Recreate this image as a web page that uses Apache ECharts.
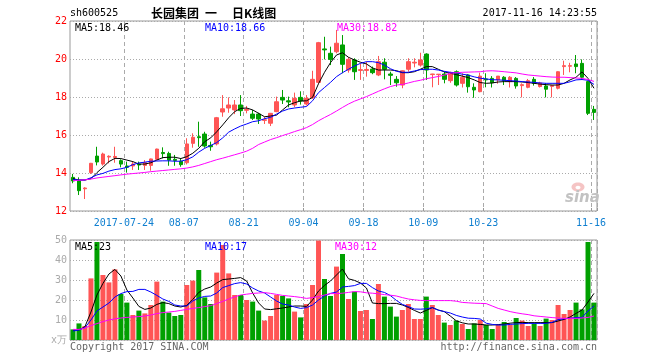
<!DOCTYPE html>
<html><head><meta charset="utf-8">
<script src="https://cdn.jsdelivr.net/npm/echarts@6/dist/echarts.min.js"></script>
<style>html,body{margin:0;padding:0;background:#fff}#c{width:660px;height:360px}</style>
</head><body><div id="c"></div>
<script>
const dates = [
"2017-07-11","2017-07-12","2017-07-13","2017-07-14","2017-07-17","2017-07-18","2017-07-19","2017-07-20","2017-07-21",
"2017-07-24","2017-07-25","2017-07-26","2017-07-27","2017-07-28",
"2017-07-31","2017-08-01","2017-08-02","2017-08-03","2017-08-04",
"2017-08-07","2017-08-08","2017-08-09","2017-08-10","2017-08-11",
"2017-08-14","2017-08-15","2017-08-16","2017-08-17","2017-08-18",
"2017-08-21","2017-08-22","2017-08-23","2017-08-24","2017-08-25",
"2017-08-28","2017-08-29","2017-08-30","2017-08-31","2017-09-01",
"2017-09-04","2017-09-05","2017-09-06","2017-09-07","2017-09-08",
"2017-09-11","2017-09-12","2017-09-13","2017-09-14","2017-09-15",
"2017-09-18","2017-09-19","2017-09-20","2017-09-21","2017-09-22",
"2017-09-25","2017-09-26","2017-09-27","2017-09-28","2017-09-29",
"2017-10-09","2017-10-10","2017-10-11","2017-10-12","2017-10-13",
"2017-10-16","2017-10-17","2017-10-18","2017-10-19","2017-10-20",
"2017-10-23","2017-10-24","2017-10-25","2017-10-26","2017-10-27",
"2017-10-30","2017-10-31","2017-11-01","2017-11-02","2017-11-03",
"2017-11-06","2017-11-07","2017-11-08","2017-11-09","2017-11-10",
"2017-11-13","2017-11-14","2017-11-15","2017-11-16"];

const tickDates = ["2017-07-24","2017-08-07","2017-08-21","2017-09-04","2017-09-18","2017-10-09","2017-10-23","2017-11-16"];
const tickLabels = ["2017-07-24","08-07","08-21","09-04","09-18","10-09","10-23","11-16"];

const openP = [
13.77,13.58,13.17,14.02,14.89,14.47,14.84,14.82,14.65,14.37,
14.37,14.47,14.40,14.40,14.72,15.08,15.03,14.72,14.62,14.54,
15.56,15.91,16.05,15.45,15.53,17.21,17.42,17.32,17.58,17.30,
17.10,17.10,16.77,16.62,17.23,17.98,17.80,17.58,17.98,17.63,
17.96,18.77,20.53,20.30,20.38,20.74,19.42,19.95,19.40,19.40,
19.47,19.16,19.83,19.21,18.93,18.63,19.46,19.79,19.68,20.26,
19.18,19.18,19.21,18.86,19.33,18.72,19.16,18.51,18.28,18.95,
18.98,18.90,19.04,18.81,18.98,18.60,18.51,18.93,18.55,18.58,
18.56,18.46,19.60,19.62,19.74,19.77,18.81,17.35];
const closeP = [
13.58,13.07,13.21,14.51,14.58,15.00,14.88,14.87,14.47,14.30,
14.47,14.42,14.54,14.74,15.26,15.02,14.68,14.66,14.44,15.53,
15.88,15.86,15.42,15.38,16.91,17.38,17.58,17.58,17.28,17.34,
16.88,16.84,16.80,17.14,17.75,17.84,17.74,17.93,17.79,17.93,
18.93,20.86,20.48,19.98,20.83,19.72,19.98,19.33,19.44,19.45,
19.28,19.86,19.46,19.14,18.75,19.38,19.86,19.83,19.95,19.42,
19.21,19.20,18.93,19.25,18.63,19.04,18.54,18.37,19.10,18.90,
18.75,19.10,18.86,19.04,18.58,18.65,18.86,18.72,18.74,18.41,
18.60,19.33,19.65,19.65,19.60,19.04,17.14,17.19];
const lowP = [
13.46,12.84,12.63,13.95,14.40,14.39,14.51,14.54,14.30,14.02,
14.16,14.16,14.16,14.12,14.70,14.77,14.38,14.38,14.33,14.45,
15.33,15.38,15.33,15.17,15.45,16.96,17.17,17.10,17.00,17.14,
16.79,16.58,16.58,16.47,17.20,17.63,17.46,17.46,17.60,17.55,
17.90,18.70,19.98,19.68,20.30,19.25,19.28,18.90,18.90,19.07,
19.20,19.10,18.93,18.63,18.54,18.46,19.33,19.56,19.60,18.90,
18.51,18.63,18.72,18.75,18.55,18.50,18.23,17.96,18.25,18.51,
18.50,18.70,18.63,18.50,18.44,17.98,18.46,18.60,18.50,17.98,
17.98,18.40,19.16,19.30,19.25,18.90,17.05,16.79];
const highP = [
13.95,13.77,13.25,14.53,15.38,15.07,14.93,15.38,14.72,14.60,
14.60,14.60,14.68,14.76,15.28,15.35,15.12,14.95,14.79,15.83,
16.09,16.70,16.17,15.65,16.95,18.10,17.98,17.84,18.10,17.53,
17.32,17.17,16.96,17.16,18.02,18.37,18.02,18.23,18.30,18.10,
19.38,20.90,21.17,20.65,21.53,21.26,20.09,20.04,19.77,19.86,
19.60,20.16,20.04,19.33,19.10,19.40,20.04,20.04,20.33,20.30,
19.22,19.21,19.33,19.33,19.40,19.25,19.20,18.72,19.28,19.25,
19.10,19.10,19.10,19.10,19.05,18.72,18.95,19.05,18.80,18.72,
18.63,19.35,19.91,19.80,20.21,19.98,18.85,17.53];

const ma5 = [
13.70,13.63,13.63,13.70,14.02,14.30,14.60,14.77,14.76,14.68,14.60,14.47,14.47,14.54,14.68,14.81,14.83,14.83,14.76,14.86,15.04,15.30,
15.65,15.85,16.17,16.53,16.91,17.23,17.40,17.42,17.32,17.14,16.96,17.00,17.05,17.32,17.58,17.70,17.79,17.80,17.98,18.70,19.30,
19.81,20.21,20.33,20.09,19.95,19.83,19.74,19.53,19.42,19.42,19.42,19.39,19.28,19.28,19.33,19.46,19.60,19.60,19.46,19.32,19.25,
19.18,19.10,19.02,18.90,18.76,18.72,18.74,18.79,18.81,18.81,18.81,18.79,18.76,18.72,18.68,18.65,18.63,18.63,18.72,18.90,19.04,19.32,18.98,18.46];
const ma10 = [
13.66,13.63,13.63,13.75,13.90,13.98,14.10,14.18,14.22,14.30,14.44,14.53,14.57,14.62,14.63,14.64,14.64,14.62,14.62,14.70,14.85,15.10,
15.30,15.45,15.60,15.85,16.15,16.32,16.47,16.58,16.70,16.75,16.86,16.93,17.10,17.26,17.37,17.42,17.46,17.50,17.80,18.23,18.50,
18.77,19.07,19.28,19.46,19.63,19.77,19.86,19.86,19.81,19.68,19.49,19.35,19.30,19.30,19.37,19.44,19.46,19.46,19.42,19.35,19.30,
19.27,19.20,19.15,19.06,18.99,18.95,18.91,18.90,18.88,18.86,18.84,18.81,18.79,18.77,18.74,18.72,18.72,18.72,18.72,18.80,18.90,18.92,18.88,18.66];
const ma30 = [
13.60,13.62,13.64,13.68,13.74,13.78,13.82,13.86,13.90,13.94,13.97,14.00,14.03,14.07,14.10,14.13,14.16,14.19,14.22,14.26,14.32,14.40,
14.50,14.60,14.70,14.78,14.87,14.96,15.05,15.15,15.30,15.50,15.63,15.76,15.86,15.97,16.07,16.18,16.28,16.39,16.55,16.75,16.92,
17.08,17.26,17.45,17.63,17.78,17.90,18.02,18.16,18.30,18.43,18.55,18.63,18.66,18.74,18.82,18.88,18.96,19.02,19.08,19.15,19.25,
19.28,19.30,19.31,19.32,19.33,19.37,19.38,19.36,19.33,19.30,19.27,19.21,19.16,19.13,19.10,19.07,19.05,19.04,19.04,19.02,19.00,18.98,18.92,18.82];

const volume = [
5.3,8.3,7,30.8,49,32.5,28.8,35.3,23,18.7,
12.5,14.7,13.3,17.5,29.2,19.2,13.7,12,12.5,27.5,
29.7,35,21.3,18,33.7,47.5,33.3,22.5,22.5,20,
19.2,14.7,9.7,12,22.5,22,20.8,14.2,11.3,18,
27.5,49.7,30.5,22,36.7,43,20.5,24.2,14.5,15,
10.5,28,21.7,16.7,11.7,15,18,10.5,10.5,21.7,
17.5,12.5,8.7,7.5,9.7,8,5.5,8.3,10,7.5,
5.5,7.5,9,7.5,11,9.7,7,8.3,7,10.7,
10,17.5,13,15,18.7,15.3,49,18.7];
const vma5 = [
5,5,6.7,14,22.5,28.3,33,35.3,32,25,21,16.8,15.3,16,17.8,18.7,18.2,17,16.5,17.3,20.3,23.8,25.5,26.5,28.5,30.2,30.5,30.8,31.2,29.5,23.5,18.5,15.5,15.2,15.6,16,16.5,17,17,16.8,20,24.5,27.3,29.5,
32.5,35.5,30.6,29.8,28.5,26,18.5,18.2,18.2,18.3,18.3,17.5,16.3,14.8,13.5,14.8,16.2,15,14.2,12,9.6,8.6,8,8,7.8,7.5,7.5,7.7,8,8.4,8.7,8.8,8.7,8.7,8.7,8.7,8.7,9.5,10.3,11.5,13.3,15,19,23.3];
const vma10 = [
4.5,5,6.2,10,14.5,16.5,18.5,21.5,23.2,24.2,24.3,25.3,25.3,24,22.3,20.5,19.3,17.5,17,17,19.5,21,21.8,22,23.5,26.2,27.2,28.2,28.7,28,26,24.5,23.5,21.5,19.5,18,17.5,16.5,15.8,16.2,17.5,20,22,23.3,
24,26.5,26.8,27.2,28.3,28.3,26.2,24.5,23.8,22.2,19.8,17.8,16.7,15.5,15.4,15.6,16.2,14.9,14.2,13.5,12.3,11.5,10.9,10.8,10.5,8.4,7.8,7.5,7.5,7.8,8,8.2,8.3,8.3,8.3,8.3,8.8,10.2,10.6,10.9,11.2,11.3,14.5,17];
const vma30 = [
5.3,5.3,6,7.2,8.2,9.2,10,10.6,11,11.3,11.5,11.7,12,12.5,13.2,13.7,14,14.3,14.8,15.3,15.8,16.2,16.7,17.2,18.2,19.3,20.5,21.6,22.5,22.9,23.3,23.5,23.7,23.3,22.8,22.3,22,21.7,21.3,20.8,21.2,21.7,22.5,23.2,
23.2,23.4,23.8,24.2,24.1,23.6,23.4,23.1,22.7,22.4,22,21.2,20.5,20.1,19.8,19.7,19.7,19.7,19.7,19.7,19.4,18.8,18.6,18.4,18.3,18.2,17,15.8,15,14.2,13.6,13.1,12.7,12.1,11.8,11.5,11.2,11,10.8,10.8,10.8,11,11.3,12];

const RED = '#ff5555', GREEN = '#00a000';
const MONO = '"DejaVu Sans Mono", monospace';
const tickIdx = tickDates.map(d => dates.indexOf(d));
const isTick = (i) => tickIdx.indexOf(i) >= 0;
const last = a => a[a.length - 1];

const chart = echarts.init(document.getElementById('c'), null, {renderer: 'canvas'});
const vSplit = {show: true, interval: (i) => isTick(i), lineStyle: {color: '#aaa', type: [4, 3], width: 1}};
const hSplit = {show: true, lineStyle: {color: '#aaa', type: [1, 2], width: 1}};
const txt = (x, y, s, fill, extra) => Object.assign({type: 'text', x: x, y: y, silent: true, z: 10,
  style: Object.assign({text: s, fill: fill, font: '10px ' + MONO, textVerticalAlign: 'middle'}, extra || {})});
const mkLine = (data, color, xi) => ({type: 'line', xAxisIndex: xi, yAxisIndex: xi, data: data, symbol: 'none',
  silent: true, lineStyle: {color: color, width: 1}, z: 5, animation: false});

chart.setOption({
  animation: false,
  backgroundColor: '#fff',
  grid: [
    {left: 70, top: 21, width: 527, height: 190, show: true, borderColor: '#999', borderWidth: 1, backgroundColor: 'transparent'},
    {left: 70, top: 240, width: 527, height: 100, show: true, borderColor: '#999', borderWidth: 1, backgroundColor: 'transparent'}
  ],
  xAxis: [
    {type: 'category', gridIndex: 0, data: dates, boundaryGap: true,
     axisLine: {show: false},
     axisTick: {show: true, inside: true, length: 3, interval: (i) => isTick(i), lineStyle: {color: '#999'}},
     axisLabel: {interval: (i) => isTick(i), formatter: (v) => tickLabels[tickDates.indexOf(v)],
       color: '#0f7fd0', fontFamily: MONO, fontSize: 10, margin: 7, padding: [0, 6, 0, 0]},
     splitLine: vSplit},
    {type: 'category', gridIndex: 1, data: dates, boundaryGap: true,
     axisLine: {show: false}, axisTick: {show: false}, axisLabel: {show: false},
     splitLine: vSplit}
  ],
  yAxis: [
    {type: 'value', gridIndex: 0, min: 12, max: 22, interval: 2, scale: true,
     axisLine: {show: false}, axisTick: {show: false},
     axisLabel: {color: '#ff0000', fontFamily: MONO, fontSize: 10, margin: 3},
     splitLine: hSplit},
    {type: 'value', gridIndex: 1, min: 0, max: 50, interval: 10,
     axisLine: {show: false}, axisTick: {show: false},
     axisLabel: {color: '#aaa', fontFamily: MONO, fontSize: 10, margin: 3,
       formatter: (v) => v === 0 ? 'x万' : String(v)},
     splitLine: hSplit}
  ],
  series: [
    {type: 'candlestick', xAxisIndex: 0, yAxisIndex: 0, barWidth: 4, silent: true,
     data: dates.map((d, i) => [openP[i], closeP[i], lowP[i], highP[i]]),
     itemStyle: {color: RED, color0: GREEN, borderColor: RED, borderColor0: GREEN, borderWidth: 1}},
    mkLine(ma5, '#000000', 0), mkLine(ma10, '#0000ff', 0), mkLine(ma30, '#ff00ff', 0),
    {type: 'bar', xAxisIndex: 1, yAxisIndex: 1, barWidth: 5, silent: true,
     data: volume.map((v, i) => ({value: v, itemStyle: {color: closeP[i] >= openP[i] ? RED : GREEN}}))},
    mkLine(vma5, '#000000', 1), mkLine(vma10, '#0000ff', 1), mkLine(vma30, '#ff00ff', 1)
  ],
  graphic: [
    txt(70, 13, 'sh600525', '#000'),
    txt(151, 13, '长园集团', '#000', {font: 'bold 12px "Noto Sans CJK SC"'}),
    txt(205, 13, '一', '#000', {font: 'bold 12px "Noto Sans CJK SC"'}),
    txt(232, 13, '日K线图', '#000', {font: 'bold 12px "Noto Sans CJK SC"'}),
    txt(597, 13, '2017-11-16 14:23:55', '#000', {textAlign: 'right'}),
    txt(75, 28, 'MA5:' + last(ma5).toFixed(2), '#000'),
    txt(205, 28, 'MA10:' + last(ma10).toFixed(2), '#0000ff'),
    txt(337, 28, 'MA30:' + last(ma30).toFixed(2), '#ff00ff'),
    txt(75, 247, 'MA5:' + Math.round(last(vma5)), '#000'),
    txt(205, 247, 'MA10:' + Math.round(last(vma10)), '#0000ff'),
    txt(335, 247, 'MA30:' + Math.round(last(vma30)), '#ff00ff'),
    txt(70, 347, 'Copyright 2017 SINA.COM', '#666'),
    txt(597, 347, 'http://finance.sina.com.cn', '#666', {textAlign: 'right'}),
    {type: 'ellipse', silent: true, z: 1, shape: {cx: 578, cy: 187, rx: 6.5, ry: 4.5}, style: {fill: '#f5c4c4'}},
    {type: 'ellipse', silent: true, z: 1, shape: {cx: 578, cy: 187.5, rx: 2.5, ry: 1.8}, style: {fill: '#fff'}},
    {type: 'text', x: 565, y: 198, silent: true, z: 1,
     style: {text: 'sina', fill: '#c2c2c2', font: 'italic bold 15px "DejaVu Sans"', textVerticalAlign: 'middle'}}
  ]
});
</script></body></html>
